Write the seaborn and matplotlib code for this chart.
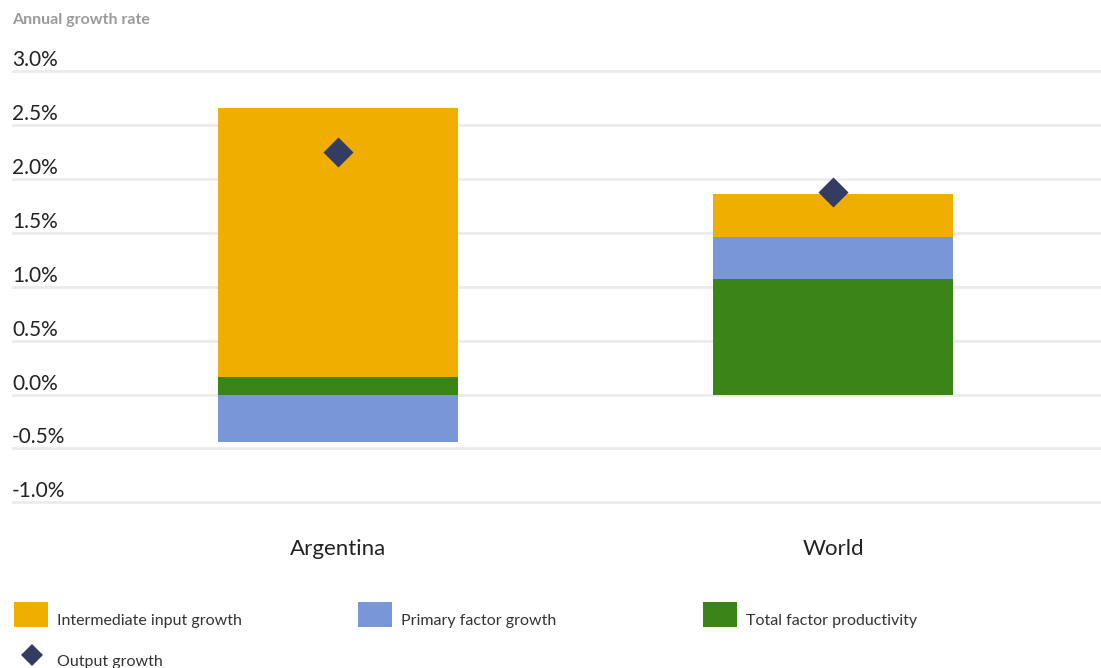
import numpy as np
import seaborn as sns
import matplotlib.pyplot as plt
from matplotlib.patches import Rectangle
from matplotlib.lines import Line2D
from matplotlib.transforms import blended_transform_factory

sns.set_theme(style="white")
plt.rcParams['font.family'] = ['Lato', 'DejaVu Sans']

# data (annual growth rate, %)
countries = ["Argentina", "World"]
tfp = [0.16, 1.07]
primary = [-0.44, 0.39]
intermediate = [2.50, 0.40]
output = [2.25, 1.88]
yticks = [-1.0, -0.5, 0.0, 0.5, 1.0, 1.5, 2.0, 2.5, 3.0]

c_inter = "#F0AE00"
c_prim = "#7896D8"
c_tfp = "#3A8418"
c_out = "#343C62"

# stacked tops (positives stack tfp -> primary -> intermediate, negatives go down from 0)
tfp_a = np.array(tfp)
prim_a = np.array(primary)
inter_a = np.array(intermediate)
pos_prim = np.where(prim_a > 0, prim_a, 0)
top_tfp = tfp_a
top_prim = np.where(prim_a > 0, tfp_a + prim_a, prim_a)
top_inter = tfp_a + pos_prim + inter_a

fig = plt.figure(figsize=(11.01, 6.68), dpi=100)
W, H = 1101, 668
ax = fig.add_axes([12 / W, (H - 510) / H, (W - 12) / W, 450 / H])

bw = 0.483
# draw tallest first, then overlay the lower segments
sns.barplot(x=countries, y=top_inter, color=c_inter, width=bw, saturation=1, ax=ax, linewidth=0)
sns.barplot(x=countries, y=top_prim, color=c_prim, width=bw, saturation=1, ax=ax, linewidth=0)
sns.barplot(x=countries, y=top_tfp, color=c_tfp, width=bw, saturation=1, ax=ax, linewidth=0)
sns.stripplot(x=countries, y=output, jitter=False, marker="D", size=15.3, color=c_out,
              linewidth=0, ax=ax, zorder=5)

ax.set_xlim(-(338 - 12) / 495, 1 + (W - 833) / 495)
ax.set_ylim(-1.071, 3.103)
ax.set_yticks(yticks)
ax.set_yticklabels([])
ax.tick_params(axis="y", length=0)
ax.yaxis.grid(True, color="#ebebeb", linewidth=2)
ax.set_axisbelow(True)
for s in ax.spines.values():
    s.set_visible(False)
ax.set_xlabel("")
ax.set_ylabel("")
ax.tick_params(axis="x", length=0, pad=21, labelsize=16, labelcolor="#222222")

trans = blended_transform_factory(ax.transAxes, ax.transData)
for v in yticks:
    ax.annotate(f"{v:.1f}%", xy=(0, v), xycoords=trans, xytext=(0, 5), textcoords="offset pixels",
                ha="left", va="baseline", fontsize=15, color="#222222")

fig.text(12 / W, 1 - 20 / H, "Annual growth rate", ha="left", va="center",
         fontsize=11.5, fontweight="bold", color="#9a9a9a")

# legend
items = [(14, 614, "rect", c_inter, "Intermediate input growth"),
         (358, 614, "rect", c_prim, "Primary factor growth"),
         (703, 614, "rect", c_tfp, "Total factor productivity"),
         (14, 655, "diam", c_out, "Output growth")]
for x, y, kind, col, lab in items:
    if kind == "rect":
        fig.add_artist(Rectangle((x / W, 1 - (y + 13) / H), 34 / W, 25 / H,
                                 transform=fig.transFigure, color=col, linewidth=0))
    else:
        fig.add_artist(Line2D([(x + 17.5) / W], [1 - y / H], marker="D", markersize=11.7,
                              markeredgewidth=0, color=col, transform=fig.transFigure))
    fig.text((x + 43) / W, 1 - (y + 7) / H, lab, ha="left", va="center", fontsize=11.5, color="#333333")

fig.savefig("out.png", dpi=100)
